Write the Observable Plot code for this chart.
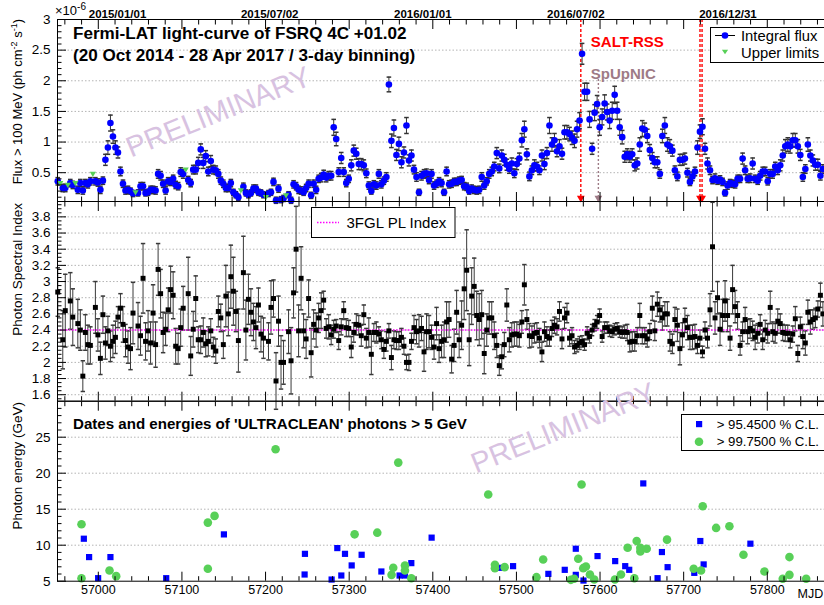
<!DOCTYPE html>
<html><head><meta charset="utf-8">
<script src="https://cdn.jsdelivr.net/npm/d3@7"></script>
<script src="https://cdn.jsdelivr.net/npm/@observablehq/plot@0.6"></script>
<style>
body{margin:0;background:#fff;}
#wrap{position:relative;width:824px;height:605px;overflow:hidden;font-family:"Liberation Sans",Arial,Helvetica,sans-serif;background:#fff;}
</style></head><body><div id="wrap"></div>
<script>
// ---------- DATA ----------
const binStart = 56951.5, binWidth = 3; // 3-day bins (MJD of bin centres)
const fluxVal = [
0.36,0.33,0.25,0.25,0.30,0.33,0.30,0.33,0.22,0.33,
0.21,0.33,0.31,0.36,0.48,0.36,0.34,0.22,0.37,0.71,
0.91,1.31,1.09,0.91,0.83,0.52,0.32,0.21,0.22,0.20,
0.16,0.18,0.17,0.28,0.28,0.17,0.18,0.22,0.22,0.21,
0.48,0.45,0.32,0.21,0.36,0.35,0.40,0.30,0.28,0.51,
0.48,0.55,0.38,0.33,0.55,0.55,0.66,0.88,0.66,0.77,
0.52,0.69,0.55,0.54,0.48,0.37,0.32,0.25,0.25,0.33,
0.18,0.14,0.10,0.21,0.27,0.17,0.14,0.17,0.24,0.24,
0.18,0.17,0.14,0.10,0.16,0.18,0.35,0.05,0.24,0.06,
0.08,0.13,0.14,0.05,0.31,0.28,0.22,0.21,0.18,0.25,
0.32,0.13,0.32,0.22,0.40,0.42,0.47,0.42,0.45,0.45,
1.24,1.05,0.51,0.74,0.51,0.33,0.40,0.62,0.86,0.81,
0.64,0.64,0.62,0.49,0.29,0.20,0.31,0.29,0.48,0.31,
0.37,0.43,1.94,1.02,1.23,0.79,0.97,0.67,0.83,1.27,
0.70,0.78,0.55,0.43,0.18,0.45,0.48,0.49,0.38,0.48,
0.29,0.32,0.36,0.33,0.18,0.52,0.31,0.32,0.35,0.35,
0.37,0.38,0.28,0.27,0.20,0.24,0.22,0.21,0.22,0.43,
0.29,0.36,0.48,0.52,0.60,0.82,0.57,0.78,0.71,0.63,
0.56,0.65,0.49,0.64,0.73,1.03,1.21,0.80,0.44,0.54,
0.62,0.60,0.54,0.78,0.64,0.82,1.27,0.96,1.03,0.85,
0.93,0.81,1.16,1.16,1.13,1.07,1.02,1.21,1.35,2.44,
1.82,1.82,1.37,0.89,1.48,1.62,1.24,1.41,1.63,1.49,
1.35,1.51,1.77,1.51,1.24,1.08,0.76,0.80,0.76,0.80,
0.62,0.65,0.96,1.22,1.20,1.10,0.87,0.74,0.67,0.67,
0.48,1.10,1.27,0.96,0.93,0.86,0.54,0.44,0.71,0.71,
0.73,0.50,0.35,0.44,0.52,0.91,1.17,1.25,0.89,0.65,
0.54,0.38,0.41,0.37,0.39,0.35,0.17,0.29,0.33,0.32,
0.31,0.40,0.40,0.73,0.54,0.40,0.41,0.65,0.40,0.37,
0.45,0.52,0.52,0.36,0.48,0.48,0.60,0.54,0.62,0.78,
0.93,0.96,0.93,1.03,1.03,0.93,0.79,0.43,0.56,0.96,
0.78,0.70,0.63,0.63,0.45,0.56];
const fluxErr = [
.06,.06,.06,.06,.06,.06,.06,.06,.06,.06,
.06,.06,.06,.06,.07,.06,.06,.06,.06,.09,
.11,.13,.11,.11,.09,.07,.06,.06,.06,.05,
.05,.05,.05,.06,.06,.05,.05,.06,.06,.06,
.07,.07,.06,.06,.06,.06,.06,.06,.06,.07,
.07,.07,.06,.06,.07,.07,.09,.09,.09,.09,
.07,.09,.07,.07,.07,.06,.06,.06,.06,.06,
.05,.05,.05,.06,.06,.05,.05,.05,.06,.06,
.05,.05,.05,.05,.05,.05,.06,.05,.06,.05,
.05,.05,.05,.05,.06,.06,.06,.06,.05,.06,
.06,.05,.06,.06,.06,.07,.07,.07,.07,.07,
.13,.11,.07,.09,.07,.06,.06,.09,.09,.09,
.09,.09,.09,.07,.06,.05,.06,.06,.07,.06,
.06,.07,.12,.11,.13,.09,.11,.09,.09,.13,
.09,.09,.07,.07,.05,.07,.07,.07,.06,.07,
.06,.06,.06,.06,.05,.07,.06,.06,.06,.06,
.06,.06,.06,.06,.05,.06,.06,.06,.06,.07,
.06,.06,.07,.07,.07,.09,.07,.09,.09,.09,
.07,.09,.07,.09,.09,.11,.13,.09,.07,.07,
.09,.07,.07,.09,.09,.09,.13,.11,.11,.09,
.11,.09,.11,.11,.11,.11,.11,.13,.13,.17,
.14,.14,.13,.09,.13,.14,.13,.13,.14,.13,
.13,.14,.14,.14,.13,.11,.09,.09,.09,.09,
.09,.09,.11,.13,.11,.11,.09,.09,.09,.09,
.07,.11,.13,.11,.11,.09,.07,.07,.09,.09,
.09,.07,.06,.07,.07,.11,.11,.13,.09,.09,
.07,.06,.07,.06,.06,.06,.05,.06,.06,.06,
.06,.06,.06,.09,.07,.06,.07,.09,.06,.06,
.07,.07,.07,.06,.07,.07,.07,.07,.09,.09,
.11,.11,.11,.11,.11,.11,.09,.07,.07,.11,
.09,.09,.09,.09,.07,.07];
const ulBins = [1,4,7,14,31,51,73,83,91];

const indexVal = [
2.87,null,2.28,2.64,null,2.76,2.56,null,2.48,2.40,
1.83,2.37,2.22,2.21,null,2.68,2.34,2.05,2.59,2.24,
2.39,2.20,2.26,2.31,2.56,2.67,2.47,2.27,2.19,2.17,
2.61,null,2.45,2.33,3.04,2.26,2.39,2.24,2.61,2.22,
3.15,2.85,2.37,2.41,2.65,2.90,2.83,2.20,2.17,2.43,
2.67,null,2.85,2.08,2.41,2.79,2.28,2.28,2.37,2.23,
2.26,2.39,2.19,2.14,2.63,2.55,2.22,2.82,2.60,3.06,
2.88,2.63,2.27,null,3.11,2.40,2.78,2.62,2.50,2.43,
2.71,2.35,2.30,null,2.26,2.68,2.79,1.77,2.51,2.00,
2.00,null,2.38,2.02,2.86,3.40,2.39,3.04,2.39,2.29,
2.79,2.12,2.47,2.40,2.55,2.64,2.77,2.42,2.44,2.34,
2.41,2.45,2.27,2.44,2.64,2.43,2.42,2.19,2.37,2.47,
2.46,2.33,2.59,2.30,2.37,2.10,2.37,2.37,2.35,2.28,
2.16,2.26,2.39,2.06,2.28,2.27,2.27,2.31,2.20,2.00,
2.00,2.26,2.43,2.38,2.39,2.42,2.13,2.38,2.38,2.31,
2.19,2.48,2.17,2.26,2.28,2.50,2.53,2.04,2.21,2.62,
2.28,2.46,2.91,3.14,2.28,2.82,2.94,2.58,2.53,2.59,
2.11,2.40,2.55,2.55,2.33,2.21,1.96,2.07,2.22,2.71,
2.28,2.34,2.35,2.35,2.33,2.50,2.96,2.53,2.33,2.32,
2.36,2.37,2.30,2.13,2.38,2.32,2.30,2.42,2.46,2.44,
2.63,2.29,2.55,2.61,2.30,2.33,2.19,2.21,2.24,2.26,
2.22,2.36,2.32,2.40,2.46,2.50,2.58,2.32,2.43,2.43,
2.39,2.38,2.41,2.42,2.38,2.37,2.38,2.37,2.25,2.26,
2.26,2.33,2.58,2.33,2.33,2.29,2.38,2.67,2.39,2.72,
2.65,2.55,2.60,2.60,2.26,2.23,2.53,2.46,2.17,2.34,
2.52,2.43,2.31,2.31,2.32,2.21,2.30,2.13,2.40,2.30,
2.65,3.43,2.55,2.80,2.41,2.58,2.76,2.58,2.30,2.90,
2.69,2.58,2.21,2.38,2.53,2.38,2.42,2.39,2.31,2.36,
2.47,2.28,2.40,2.36,2.68,2.38,2.36,2.51,2.48,2.37,
2.36,2.36,2.28,2.35,2.54,2.11,2.44,2.32,2.24,2.62,
2.50,2.53,2.55,2.66,2.83,2.60];
const indexErr = [
0.30,null,0.36,0.45,null,0.35,0.35,null,0.30,0.25,
0.19,0.22,0.24,0.23,null,0.32,0.20,0.20,0.23,0.20,
0.18,0.19,0.20,0.20,0.13,0.18,0.22,0.20,0.20,0.26,
0.38,null,0.29,0.24,0.43,0.23,0.25,0.26,0.35,0.28,
0.32,0.30,0.25,0.20,0.27,0.29,0.29,0.22,0.19,0.23,
0.27,null,0.45,0.24,0.22,0.28,0.16,0.17,0.18,0.16,
0.18,0.15,0.12,0.15,0.19,0.17,0.17,0.38,0.27,0.39,
0.42,0.25,0.39,null,0.45,0.37,0.31,0.29,0.23,0.26,
0.21,0.22,0.25,null,0.23,0.33,0.23,0.35,0.31,0.33,
0.27,null,0.27,0.41,0.31,0.53,0.32,0.39,0.21,0.24,
0.23,0.30,0.18,0.21,0.18,0.22,0.11,0.12,0.15,0.12,
0.11,0.08,0.11,0.10,0.11,0.11,0.10,0.13,0.12,0.13,
0.12,0.13,0.12,0.12,0.18,0.25,0.11,0.13,0.09,0.11,
0.11,0.12,0.09,0.15,0.11,0.11,0.11,0.11,0.10,0.09,
0.10,0.10,0.15,0.15,0.20,0.15,0.24,0.22,0.20,0.15,
0.15,0.20,0.17,0.20,0.22,0.25,0.22,0.17,0.20,0.27,
0.22,0.30,0.38,0.50,0.32,0.35,0.35,0.30,0.32,0.30,
0.25,0.20,0.20,0.20,0.17,0.15,0.12,0.15,0.15,0.20,
0.15,0.15,0.15,0.15,0.14,0.14,0.25,0.12,0.15,0.13,
0.12,0.12,0.12,0.12,0.12,0.12,0.10,0.10,0.10,0.10,
0.12,0.12,0.13,0.12,0.10,0.10,0.08,0.08,0.08,0.07,
0.07,0.08,0.08,0.07,0.07,0.08,0.08,0.07,0.07,0.07,
0.07,0.07,0.07,0.07,0.07,0.07,0.08,0.10,0.12,0.12,
0.12,0.10,0.15,0.10,0.10,0.10,0.10,0.15,0.12,0.15,
0.15,0.15,0.15,0.15,0.12,0.12,0.15,0.20,0.20,0.15,
0.15,0.15,0.15,0.15,0.15,0.10,0.10,0.07,0.10,0.12,
0.20,0.55,0.20,0.20,0.20,0.20,0.25,0.20,0.15,0.30,
0.20,0.17,0.12,0.12,0.15,0.15,0.12,0.12,0.15,0.12,
0.12,0.12,0.12,0.12,0.20,0.12,0.12,0.15,0.12,0.10,
0.10,0.10,0.10,0.10,0.15,0.10,0.12,0.15,0.15,0.15,
0.15,0.12,0.12,0.10,0.15,0.15];
const pl3fglIndex = 2.40;

const saltMjd = [57577, 57719.5, 57722];
const spupMjd = [57598];
const spupTop = 2.03;
const dateMjd = [57023, 57205, 57388, 57571, 57753];
const dateLabels = ["2015/01/01","2015/07/02","2016/01/01","2016/07/02","2016/12/31"];

const ph95Mjd = [56982.7,56989,56999.8,57014.5,57081.2,57150.2,57247.1,57246.7,57279,57285.8,57290.6,57295,57303,57314.9,57338.5,57360.3,57366.7,57374.3,57398.6,57481,57496,57538.2,57557.8,57571,57571,57580.2,57597,57618.1,57630.1,57634.9,57651.7,57668.8,57674,57680.8,57712.7,57719.9,57723.9,57779.8];
const ph95E = [10.9,8.35,5.42,8.35,5.42,11.5,8.8,5.93,5.23,9.6,5.79,8.8,7.19,8.67,6.35,5.79,5.79,7.51,11.05,6.86,7.09,6.02,6.58,9.51,5.88,5.09,8.49,7.79,7.09,6.58,18.58,5.42,9.05,6.95,6.16,10.58,7.33,10.21];
const ph997Mjd = [56979.9,56979.9,57013.4,57021.4,57131,57131,57139,57212,57306.5,57333.6,57350.7,57352.7,57358.7,57366.7,57366.7,57374.3,57466.3,57474.3,57474.3,57485.9,57524,57532,57565.1,57569.1,57573.9,57577.9,57579.9,57583.1,57587.9,57593.1,57617.8,57625,57633,57641,57643.8,57648.2,57648.2,57655.8,57680.1,57712,57720.8,57722.8,57738.8,57754.7,57771.5,57796.6,57818.5,57826.5,57826.5,57846.5];
const ph997E = [12.9,5.42,6.49,5.70,6.72,13.14,14.07,23.33,11.51,11.74,5.88,6.86,21.47,7.19,6.49,5.42,17.05,7.28,6.81,6.95,5.56,8.02,5.19,5.33,8.12,18.44,6.81,7.05,5.93,5.23,5.23,5.93,9.65,5.42,10.58,9.65,9.14,9.51,10.77,6.72,6.49,15.42,12.4,12.63,8.67,6.35,5.33,8.35,5.88,5.33];

const xTicks = [57000,57100,57200,57300,57400,57500,57600,57700,57800];
const fluxTicks = [0.5,1,1.5,2,2.5,3];
const indexTicks = [1.6,1.8,2,2.2,2.4,2.6,2.8,3,3.2,3.4,3.6,3.8];
const energyTicks = [5,10,15,20,25];

// ---------- STYLE / LAYOUT ----------
const BLUE = "#0000ff", GREEN = "#58d058", RED = "#ff0000", MAUVE = "#9e7b86", MAG = "#ff00ff";
const FONT = '"Liberation Sans", Arial, Helvetica, sans-serif';
const W = 830, ML = 57, MR = 3;
const xDomain = [56951.2, 57872];
const xMinor = d3.range(56960, 57872, 20).filter(v => v % 100 !== 0);
const fluxMinor = d3.range(1, 30).map(i => i / 10).filter(v => Math.abs(v*2 - Math.round(v*2)) > 1e-6);
const indexMinor = d3.range(31, 80).map(i => i / 20).filter(v => Math.abs(v*5 - Math.round(v*5)) > 1e-6);
const energyMinor = d3.range(6, 30).filter(v => v % 5 !== 0);

const capSym = {draw(ctx, size) { const w = Math.sqrt(size / Math.PI); ctx.moveTo(-w, 0); ctx.lineTo(w, 0); }};
const triDown = {draw(ctx, size) { const r = Math.sqrt(size / Math.PI); ctx.moveTo(-1.3*r, -0.9*r); ctx.lineTo(1.3*r, -0.9*r); ctx.lineTo(0, 1.3*r); ctx.closePath(); }};

function frameTicks(yMajor, yMinor) {
  return [
    Plot.axisX({anchor: "bottom", ticks: xTicks, tickSize: -9, fill: "none", label: null}),
    Plot.axisX({anchor: "bottom", ticks: xMinor, tickSize: -4.5, fill: "none", label: null}),
    Plot.axisX({anchor: "top", ticks: xTicks, tickSize: -9, fill: "none", label: null}),
    Plot.axisX({anchor: "top", ticks: xMinor, tickSize: -4.5, fill: "none", label: null}),
    Plot.axisY({anchor: "left", ticks: yMajor, tickSize: -9, fill: "none", label: null}),
    Plot.axisY({anchor: "left", ticks: yMinor, tickSize: -4.5, fill: "none", label: null}),
    Plot.axisY({anchor: "left", ticks: yMajor, tickSize: 0, tickPadding: 7, tickFormat: d => String(d), fontSize: 13.5, label: null})
  ];
}
function svgStyle(top) {
  return {position: "absolute", left: "0px", top: top + "px", background: "transparent", maxWidth: "none", overflow: "visible", fontFamily: FONT, color: "black"};
}
const grid = (ticks) => Plot.gridY({ticks, stroke: "#b4b4b4", strokeOpacity: 1, strokeDasharray: "1.5,2"});

// ---------- PANEL 1: flux ----------
const fluxRows = fluxVal.map((v, i) => ({mjd: binStart + binWidth * i, v, e: fluxErr[i], ul: ulBins.includes(i)}));
const fluxDet = fluxRows.filter(d => !d.ul && d.v != null);
const fluxUL = fluxRows.filter(d => d.ul);

const p1 = Plot.plot({
  width: W, height: 203, marginLeft: ML, marginRight: MR, marginTop: 19, marginBottom: 2,
  style: svgStyle(0),
  x: {domain: xDomain, axis: null},
  y: {domain: [0.03, 3.0], axis: null},
  marks: [
    grid([0.5,1,1.5,2,2.5]),
    Plot.ruleX(saltMjd, {x: d => d, stroke: RED, strokeWidth: 1.4, strokeDasharray: "3,2"}),
    Plot.ruleX(spupMjd, {x: d => d, y1: 0.03, y2: spupTop, stroke: MAUVE, strokeWidth: 1.4, strokeDasharray: "2,2"}),
    Plot.ruleX(fluxDet, {x: "mjd", y1: d => d.v - d.e, y2: d => d.v + d.e, stroke: "#333", strokeWidth: 1}),
    Plot.dot(fluxDet, {x: "mjd", y: d => d.v - d.e, symbol: capSym, r: 2.3, stroke: "#333", fill: "none"}),
    Plot.dot(fluxDet, {x: "mjd", y: d => d.v + d.e, symbol: capSym, r: 2.3, stroke: "#333", fill: "none"}),
    Plot.dot(fluxDet, {x: "mjd", y: "v", r: 3.3, fill: BLUE, stroke: "none"}),
    Plot.dot(fluxUL, {x: "mjd", y: "v", symbol: triDown, r: 2.4, fill: GREEN, stroke: "none"}),
    Plot.dot(saltMjd, {x: d => d, frameAnchor: "bottom", dy: -3, symbol: triDown, r: 3, fill: RED, stroke: "none"}),
    Plot.dot(spupMjd, {x: d => d, frameAnchor: "bottom", dy: -3, symbol: triDown, r: 3, fill: MAUVE, stroke: "none"}),
    Plot.text(["SALT-RSS"], {x: saltMjd[0], frameAnchor: "top", dx: 10, dy: 17, textAnchor: "start", fill: RED, fontWeight: "bold", fontSize: 15}),
    Plot.text(["SpUpNIC"], {x: saltMjd[0], frameAnchor: "top", dx: 10, dy: 49, textAnchor: "start", fill: MAUVE, fontWeight: "bold", fontSize: 15}),
    Plot.axisX({anchor: "top", ticks: dateMjd, tickSize: 0, tickPadding: 2, tickFormat: d => dateLabels[dateMjd.indexOf(d)], fontSize: 11.5, fontWeight: "bold", label: null}),
    ...frameTicks(fluxTicks, fluxMinor),
    Plot.frame({stroke: "black"})
  ]
});

// ---------- PANEL 2: photon index ----------
const idxRows = indexVal.map((v, i) => ({mjd: binStart + binWidth * i, v, e: indexErr[i]})).filter(d => d.v != null);
const p2 = Plot.plot({
  width: W, height: 203, marginLeft: ML, marginRight: MR, marginTop: 1, marginBottom: 2.3,
  style: svgStyle(200),
  x: {domain: xDomain, axis: null},
  y: {domain: [1.52, 3.99], axis: null},
  marks: [
    grid(indexTicks),
    Plot.ruleX(idxRows, {x: "mjd", y1: d => d.v - d.e, y2: d => d.v + d.e, stroke: "#3a3a3a", strokeWidth: 1}),
    Plot.dot(idxRows, {x: "mjd", y: d => d.v - d.e, symbol: capSym, r: 2.2, stroke: "#3a3a3a", fill: "none"}),
    Plot.dot(idxRows, {x: "mjd", y: d => d.v + d.e, symbol: capSym, r: 2.2, stroke: "#3a3a3a", fill: "none"}),
    Plot.ruleY([pl3fglIndex], {stroke: MAG, strokeWidth: 1.4, strokeDasharray: "1.5,1.5"}),
    Plot.dot(idxRows, {x: "mjd", y: "v", symbol: "square", r: 2.8, fill: "black", stroke: "none"}),
    ...frameTicks(indexTicks, indexMinor),
    Plot.frame({stroke: "black"})
  ]
});

// ---------- PANEL 3: photon energies ----------
const ph95 = ph95Mjd.map((m, i) => ({mjd: m, e: ph95E[i]}));
const ph997 = ph997Mjd.map((m, i) => ({mjd: m, e: ph997E[i]}));
const p3 = Plot.plot({
  width: W, height: 207, marginLeft: ML, marginRight: MR, marginTop: 2.7, marginBottom: 24.3,
  style: svgStyle(398),
  x: {domain: xDomain, axis: null},
  y: {domain: [5, 30], axis: null},
  marks: [
    grid([10,15,20,25]),
    Plot.dot(ph95, {x: "mjd", y: "e", symbol: "square", r: 3.5, fill: BLUE, stroke: "none"}),
    Plot.dot(ph997, {x: "mjd", y: "e", r: 4.3, fill: GREEN, stroke: "none"}),
    ...frameTicks(energyTicks, energyMinor),
    Plot.axisX({anchor: "bottom", ticks: xTicks, tickSize: 0, tickPadding: 4, tickFormat: d => String(d), fontSize: 12.5, label: null}),
    Plot.text(["MJD"], {frameAnchor: "bottom-right", dx: -30, dy: 17, textAnchor: "start", fontSize: 12.5}),
    Plot.frame({stroke: "black"})
  ]
});

const wrap = document.getElementById("wrap");
wrap.append(p1, p2, p3);

// ---------- OVERLAY: titles, legends, watermark ----------
const ov = d3.select(wrap).append("svg")
  .attr("width", 824).attr("height", 605)
  .style("position", "absolute").style("left", "0px").style("top", "0px")
  .style("pointer-events", "none").style("font-family", FONT);

function t(x, y, s, o = {}) {
  const el = ov.append("text").attr("x", x).attr("y", y).attr("font-size", o.size || 14)
    .attr("font-weight", o.weight || "normal").attr("fill", o.fill || "black")
    .attr("text-anchor", o.anchor || "start").text(s);
  if (o.transform) el.attr("transform", o.transform);
  return el;
}
// exponent
const ex = t(55, 15, "×10", {size: 13});
ex.append("tspan").attr("dy", -5).attr("font-size", 10).text("-6");

// titles
t(73, 39.3, "Fermi-LAT light-curve of FSRQ 4C +01.02", {size: 17.1, weight: "bold"});
t(73, 61, "(20 Oct 2014 - 28 Apr 2017 / 3-day binning)", {size: 17.1, weight: "bold"});
t(73, 429, "Dates and energies of 'ULTRACLEAN' photons > 5 GeV", {size: 15.1, weight: "bold"});

// y-axis titles (rotated, aligned to top end of axis)
const yt1 = ov.append("text").attr("transform", "translate(22,19) rotate(-90)").attr("text-anchor", "end").attr("font-size", 13);
yt1.append("tspan").text("Flux > 100 MeV (ph cm");
yt1.append("tspan").attr("dy", -5).attr("font-size", 9).text("-2");
yt1.append("tspan").attr("dy", 5).text(" s");
yt1.append("tspan").attr("dy", -5).attr("font-size", 9).text("-1");
yt1.append("tspan").attr("dy", 5).text(")");
t(0, 0, "Photon Spectral Index", {size: 13.5, anchor: "end", transform: "translate(22,203) rotate(-90)"});
t(0, 0, "Photon energy (GeV)", {size: 13.5, anchor: "end", transform: "translate(22,402) rotate(-90)"});

// legend 1
ov.append("rect").attr("x", 710.5).attr("y", 27.5).attr("width", 130).attr("height", 35).attr("fill", "white").attr("stroke", "black");
ov.append("line").attr("x1", 715).attr("x2", 735).attr("y1", 35.5).attr("y2", 35.5).attr("stroke", "black");
ov.append("circle").attr("cx", 725).attr("cy", 35.5).attr("r", 3.3).attr("fill", BLUE);
t(741, 40.5, "Integral flux", {size: 14.8});
ov.append("path").attr("d", "M721.9,49.8L728.1,49.8L725,54.2Z").attr("fill", GREEN);
t(741, 57.5, "Upper limits", {size: 14.8});

// legend 2
ov.append("rect").attr("x", 311.5).attr("y", 207.5).attr("width", 143.5).attr("height", 30).attr("fill", "white").attr("stroke", "black");
ov.append("line").attr("x1", 317).attr("x2", 339).attr("y1", 222.5).attr("y2", 222.5).attr("stroke", MAG).attr("stroke-width", 1.4).attr("stroke-dasharray", "1.5,1.5");
t(346.5, 228.3, "3FGL PL Index", {size: 15});

// legend 3
ov.append("rect").attr("x", 681.5).attr("y", 414.5).attr("width", 160).attr("height", 36).attr("fill", "white").attr("stroke", "black");
ov.append("rect").attr("x", 696).attr("y", 421).attr("width", 6.2).attr("height", 6.2).attr("fill", BLUE);
t(716.7, 428.5, "> 95.4500 % C.L.", {size: 13.2});
ov.append("circle").attr("cx", 699).attr("cy", 441.7).attr("r", 4.3).attr("fill", GREEN);
t(716.7, 446.2, "> 99.7500 % C.L.", {size: 13.2});

// watermarks
t(0, 0, "PRELIMINARY", {size: 29, fill: "#d8c2e1", anchor: "middle", transform: "translate(222,121) rotate(-22)"});
t(0, 0, "PRELIMINARY", {size: 29, fill: "#d8c2e1", anchor: "middle", transform: "translate(567,437) rotate(-22)"});
</script>
</body></html>
